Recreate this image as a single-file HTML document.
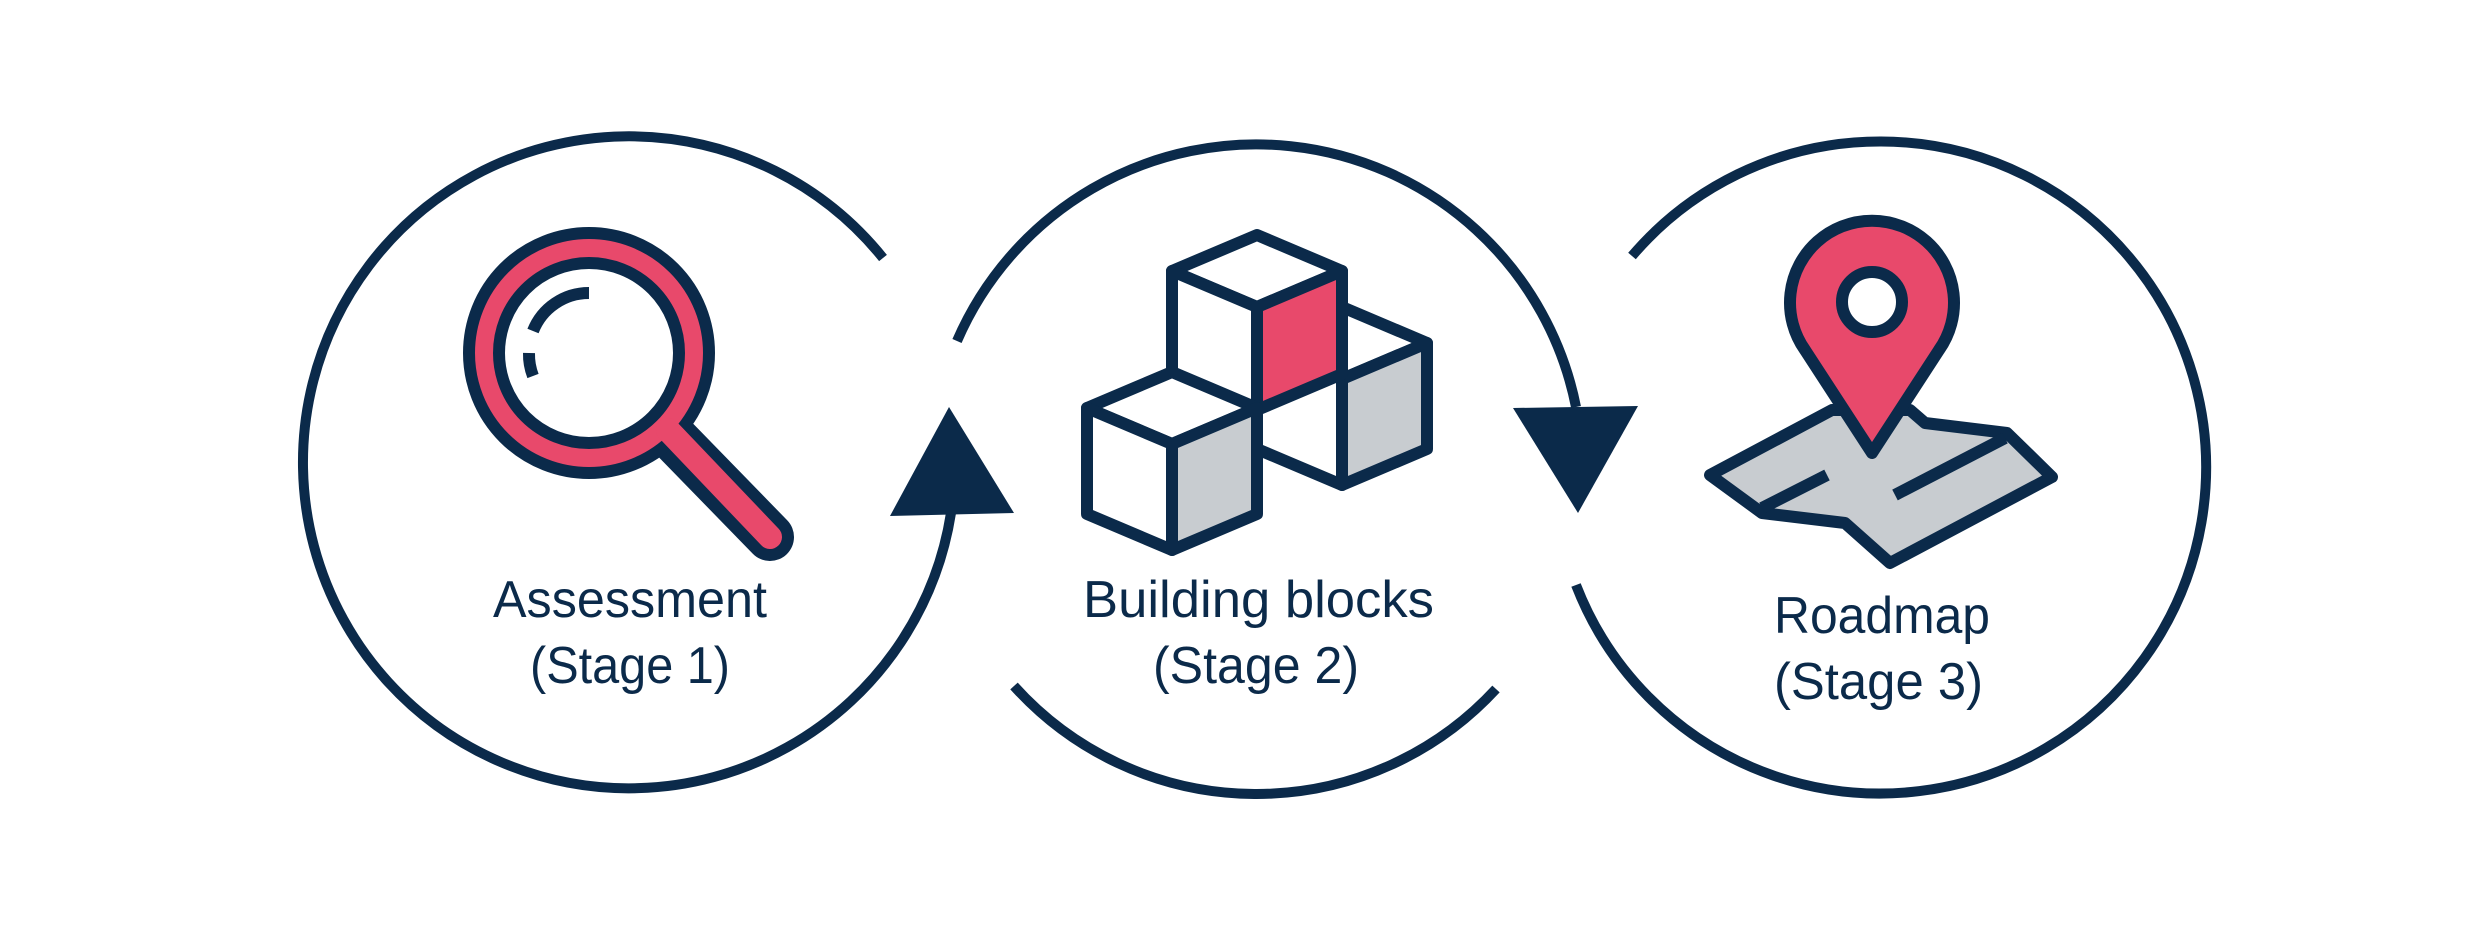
<!DOCTYPE html>
<html><head><meta charset="utf-8"><style>html,body{margin:0;padding:0;background:#fff}svg{display:block}</style></head>
<body>
<svg width="2481" height="932" viewBox="0 0 2481 932" xmlns="http://www.w3.org/2000/svg">
<rect width="2481" height="932" fill="#fff"/>
<g fill="none" stroke="#0b2a4a" stroke-width="10">
<path d="M 883 258 A 326 326 0 1 0 951 513"/>
<path d="M 957 341 A 326 326 0 0 1 1576 407"/>
<path d="M 1014 686 A 326 326 0 0 0 1496 689"/>
<path d="M 1632 256 A 326 326 0 1 1 1576 585"/>
</g>
<polygon points="949,407 890,516 1014,513" fill="#0b2a4a"/>
<polygon points="1513,408 1638,406 1578,513" fill="#0b2a4a"/>

<!-- magnifier -->
<line x1="658" y1="422" x2="770" y2="537" stroke="#0b2a4a" stroke-width="48" stroke-linecap="round"/>
<circle cx="589" cy="353" r="120" fill="#e8496b" stroke="#0b2a4a" stroke-width="12"/>
<line x1="668" y1="430" x2="770" y2="537" stroke="#e8496b" stroke-width="24" stroke-linecap="round"/>
<circle cx="589" cy="353" r="90" fill="#fff" stroke="#0b2a4a" stroke-width="12"/>
<g fill="none" stroke="#0b2a4a" stroke-width="12">
<path d="M 589 293 A 60 60 0 0 0 533 331"/>
<path d="M 529 353 A 60 60 0 0 0 533 376"/>
</g>

<!-- blocks -->
<g stroke="#0b2a4a" stroke-width="12" stroke-linejoin="round">
<polygon points="1342,307 1427,343 1342,379" fill="#fff"/>
<polygon points="1257,343 1342,379 1342,485 1257,449" fill="#fff"/>
<polygon points="1342,379 1427,343 1427,449 1342,485" fill="#c8ccd0"/>
<polygon points="1257,235 1342,271 1257,307 1172,271" fill="#fff"/>
<polygon points="1172,271 1257,307 1257,410 1172,374" fill="#fff"/>
<polygon points="1257,307 1342,271 1342,374 1257,410" fill="#e8496b"/>
<polygon points="1172,372 1257,408 1172,444 1087,408" fill="#fff"/>
<polygon points="1087,408 1172,444 1172,550 1087,514" fill="#fff"/>
<polygon points="1172,444 1257,408 1257,514 1172,550" fill="#c8ccd0"/>
</g>

<!-- map -->
<g stroke="#0b2a4a" stroke-width="12" stroke-linejoin="round">
<polygon points="1710,475 1832,410 1910,410 1925,423 2007,433 2052,477 1890,563 1845,523 1762,513" fill="#c8ccd0"/>
<line x1="1762" y1="508" x2="1827" y2="475"/>
<line x1="1895" y1="495" x2="2005" y2="438"/>
<path d="M 1872 453 L 1805 350 A 82 82 0 1 1 1939 350 Z" fill="#e8496b"/>
<circle cx="1872" cy="302" r="30" fill="#fff"/>
</g>

<g fill="#0b2a4a" font-family="Liberation Sans, sans-serif" font-size="52">
<text x="493" y="617" textLength="274" lengthAdjust="spacingAndGlyphs">Assessment</text>
<text x="530" y="683" textLength="200" lengthAdjust="spacingAndGlyphs">(Stage 1)</text>
<text x="1083" y="617" textLength="351" lengthAdjust="spacingAndGlyphs">Building blocks</text>
<text x="1153" y="683" textLength="206" lengthAdjust="spacingAndGlyphs">(Stage 2)</text>
<text x="1774" y="633" textLength="216" lengthAdjust="spacingAndGlyphs">Roadmap</text>
<text x="1774" y="699" textLength="209" lengthAdjust="spacingAndGlyphs">(Stage 3)</text>
</g>
</svg>
</body></html>
